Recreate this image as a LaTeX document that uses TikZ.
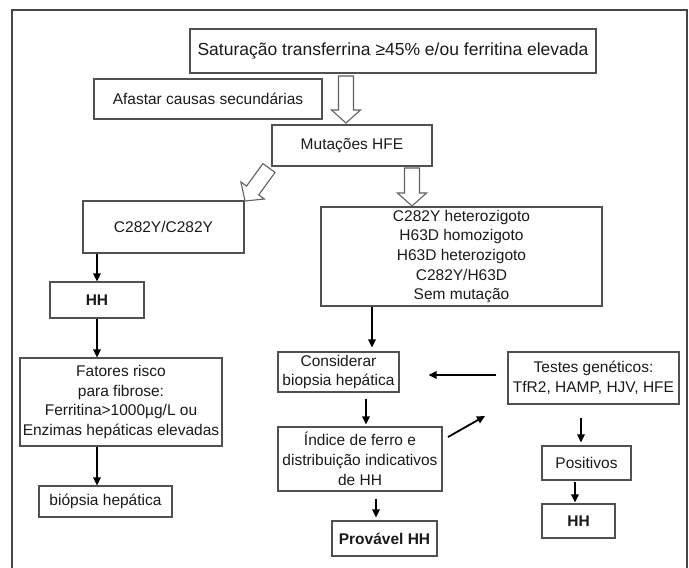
\documentclass[tikz,border=0pt]{standalone}
\usepackage{fontspec}
\setmainfont{Liberation Sans}
\usetikzlibrary{calc,arrows.meta}
\definecolor{boxgray}{HTML}{505050}
\definecolor{framegray}{HTML}{454545}
\definecolor{txt}{HTML}{1A1A1A}
\newcommand\blockarr[2]{%
  \coordinate (ha) at ($(#2)!13pt!(#1)$);
  \draw[hollow] ($(#1)!7.5pt!90:(#2)$) -- ($(ha)!7.5pt!90:(#2)$) -- ($(ha)!14.5pt!90:(#2)$) -- (#2)
    -- ($(ha)!14.5pt!-90:(#2)$) -- ($(ha)!7.5pt!-90:(#2)$) -- ($(#1)!7.5pt!-90:(#2)$) -- cycle;}
\begin{document}
\begin{tikzpicture}[x=1pt,y=-1pt,
  box/.style={draw=boxgray,line width=1.2pt,inner sep=0pt,align=center,
    font=\fontsize{15.5}{19.7}\selectfont,text=txt},
  boldbox/.style={box,font=\fontsize{15.5}{19.7}\selectfont\bfseries},
  arr/.style={line width=1.8pt,-{Triangle[length=8pt,width=7.5pt]}},
  hollow/.style={draw=boxgray!90,line width=1.1pt,fill=white,line join=miter},
  frame/.style={draw=framegray,line width=1.5pt}]
\useasboundingbox (0,0) rectangle (689,568);
\clip (0,0) rectangle (689,568);
\draw[frame] (12,10) rectangle (687,590);

% nodes
\node[box,minimum width=406,minimum height=44,font=\fontsize{17.5}{21}\selectfont] (top) at (393,51) {Saturação transferrina ≥45\% e/ou ferritina elevada};
\node[box,minimum width=228,minimum height=40] (afastar) at (208,99) {Afastar causas secundárias};
\node[box,minimum width=160,minimum height=41] (mut) at (352,145.5) {Mutações HFE};
\node[box,minimum width=161,minimum height=52] (c282) at (163.5,227) {C282Y/C282Y};
\node[boldbox,minimum width=94,minimum height=36] (hh1) at (97,300) {HH};
\node[box,minimum width=202,minimum height=88] (fat) at (121,402) {Fatores risco\\para fibrose:\\Ferritina>1000µg/L ou\\Enzimas hepáticas elevadas};
\node[box,minimum width=133,minimum height=31] (biop) at (105.5,501.5) {biópsia hepática};
\node[box,minimum width=281,minimum height=99] (big) at (461.5,256.5) {C282Y heterozigoto\\H63D homozigoto\\H63D heterozigoto\\C282Y/H63D\\Sem mutação};
\node[box,minimum width=121,minimum height=40] (cons) at (338.5,372) {Considerar\\biopsia hepática};
\node[box,minimum width=171,minimum height=52] (testes) at (593.5,378) {Testes genéticos:\\TfR2, HAMP, HJV, HFE};
\node[box,minimum width=164,minimum height=64] (indice) at (360,459) {Índice de ferro e\\distribuição indicativos\\de HH};
\node[boldbox,minimum width=105,minimum height=35] (prov) at (384.5,538.5) {Provável HH};
\node[box,minimum width=89,minimum height=34] (pos) at (586.5,463) {Positivos};
\node[boldbox,minimum width=73,minimum height=34] (hh2) at (578.5,521) {HH};

% hollow block arrows
\coordinate (b1s) at (346,76);  \coordinate (b1e) at (346,123);
\coordinate (b2s) at (412,168); \coordinate (b2e) at (412,206);
\coordinate (b3s) at (269,168); \coordinate (b3e) at (245,201);
\blockarr{b1s}{b1e}
\blockarr{b2s}{b2e}
\blockarr{b3s}{b3e}

% black arrows
\draw[arr] (c282.south -| hh1.north) -- (hh1.north);
\draw[arr] (hh1.south) -- (hh1.south |- fat.north);
\draw[arr] (hh1.south |- fat.south) -- (hh1.south |- biop.north);
\draw[arr,shorten >=4pt] ([xshift=33.5pt]cons.north |- big.south) -- ([xshift=33.5pt]cons.north);
\draw[arr,shorten <=11pt,shorten >=29pt] ([yshift=3pt]testes.west) -- ([yshift=3pt]testes.west -| cons.east);
\draw[arr,shorten <=6pt,shorten >=2pt] ([xshift=27.5pt]cons.south) -- ([xshift=27.5pt]cons.south |- indice.north);
\coordinate (d1) at (448,437); \coordinate (d2) at (485,416);
\draw[arr] (d1) -- (d2);
\draw[arr,shorten <=7pt,shorten >=3pt] ([xshift=16pt]indice.south) -- ([xshift=16pt]indice.south |- prov.north);
\draw[arr,shorten <=13pt,shorten >=3pt] ([xshift=-12.5pt]testes.south) -- ([xshift=-12.5pt]testes.south |- pos.north);
\draw[arr,shorten <=1pt,shorten >=1pt] ([xshift=-11.5pt]pos.south) -- ([xshift=-11.5pt]pos.south |- hh2.north);
\end{tikzpicture}
\end{document}
